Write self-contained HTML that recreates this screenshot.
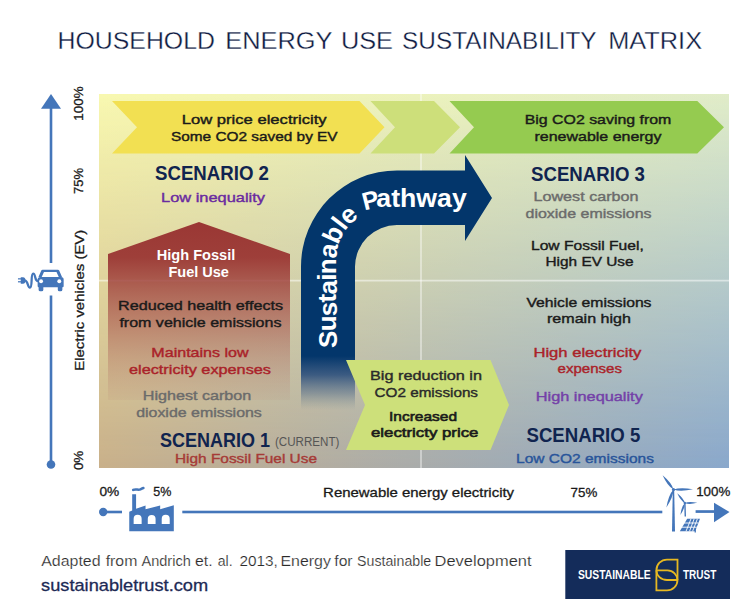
<!DOCTYPE html>
<html><head><meta charset="utf-8">
<style>
html,body{margin:0;padding:0;background:#fff;width:754px;height:615px;overflow:hidden}
svg{display:block;font-family:"Liberation Sans",sans-serif}
</style></head>
<body>
<svg width="754" height="615" viewBox="0 0 754 615">
<defs>
  <linearGradient id="gTop" x1="0" y1="0" x2="1" y2="0">
    <stop offset="0" stop-color="#f8f8b0"/>
    <stop offset="1" stop-color="#e0ecc8"/>
  </linearGradient>
  <linearGradient id="gBot" x1="0" y1="0" x2="1" y2="0">
    <stop offset="0" stop-color="#c9b08a"/>
    <stop offset="1" stop-color="#8aa8cc"/>
  </linearGradient>
  <linearGradient id="gMask" x1="0" y1="0" x2="0" y2="1">
    <stop offset="0" stop-color="#fff"/>
    <stop offset="1" stop-color="#000"/>
  </linearGradient>
  <mask id="mTop" maskUnits="userSpaceOnUse" x="99" y="94" width="630" height="374">
    <rect x="99" y="94" width="630" height="374" fill="url(#gMask)"/>
  </mask>
  <linearGradient id="gHouse" x1="0" y1="0" x2="0" y2="1">
    <stop offset="0" stop-color="#9a3734"/>
    <stop offset="0.2" stop-color="#9c3a36" stop-opacity="0.97"/>
    <stop offset="0.6" stop-color="#a44844" stop-opacity="0.5"/>
    <stop offset="1" stop-color="#b07068" stop-opacity="0.08"/>
  </linearGradient>
  <linearGradient id="gArrow" gradientUnits="userSpaceOnUse" x1="0" y1="356" x2="0" y2="410">
    <stop offset="0" stop-color="#03366b"/>
    <stop offset="0.35" stop-color="#1a4278" stop-opacity="0.8"/>
    <stop offset="0.7" stop-color="#3a5a85" stop-opacity="0.4"/>
    <stop offset="1" stop-color="#6a7f95" stop-opacity="0"/>
  </linearGradient>
</defs>

<!-- title -->
<g font-size="23.5" fill="#0f1b42" stroke="#fff" stroke-width="0.3">
  <text x="57.6" y="48.9" textLength="157.3" lengthAdjust="spacingAndGlyphs">HOUSEHOLD</text>
  <text x="225.3" y="48.9" textLength="107.2" lengthAdjust="spacingAndGlyphs">ENERGY</text>
  <text x="340.9" y="48.9" textLength="52.1" lengthAdjust="spacingAndGlyphs">USE</text>
  <text x="402.1" y="48.9" textLength="194.5" lengthAdjust="spacingAndGlyphs">SUSTAINABILITY</text>
  <text x="608.2" y="48.9" textLength="93.9" lengthAdjust="spacingAndGlyphs">MATRIX</text>
</g>

<!-- matrix background -->
<rect x="99" y="94" width="630" height="374" fill="url(#gBot)"/>
<rect x="99" y="94" width="630" height="374" fill="url(#gTop)" mask="url(#mTop)"/>
<!-- grid -->
<line x1="421" y1="94" x2="421" y2="468" stroke="#ffffff" stroke-opacity="0.5" stroke-width="1.6"/>
<line x1="99" y1="280.6" x2="729" y2="280.6" stroke="#ffffff" stroke-opacity="0.5" stroke-width="1.6"/>

<!-- chevrons -->
<polygon points="112,101 359.5,101 384.5,127.3 359.5,153.6 112,153.6 137,127.3" fill="#f2e052"/>
<polygon points="370.5,101 434,101 460,127.3 434,153.6 370.5,153.6 395,127.3" fill="#cddf7a"/>
<polygon points="449.5,101 697.3,101 724,127.3 697.3,153.6 449.5,153.6 474,127.3" fill="#95cb50"/>

<!-- house -->
<polygon points="199,222 290,254 290,400 108,400 108,254" fill="url(#gHouse)"/>

<!-- pathway arrow -->
<path d="M301,410 L301,266.5 A96,96 0 0 1 397,170.5 L465,170.5 L465,155 L492,198 L465,241 L465,225 L397,225 A42,42 0 0 0 355,266.5 L355,410 Z" fill="url(#gArrow)"/>
<path id="pathText" d="M336.5,400 L336.5,259 A50,50 0 0 1 386.5,209 L500,209" fill="none"/>
<text font-size="26" font-weight="bold" fill="#fff"><textPath href="#pathText" startOffset="52" textLength="139" lengthAdjust="spacing">Sustainable</textPath></text>
<text x="0" y="0" transform="translate(364.5,210.5) rotate(-14)" font-size="25" font-weight="bold" fill="#fff" textLength="16.5" lengthAdjust="spacingAndGlyphs">P</text>
<text x="376.3" y="206.8" font-size="25" font-weight="bold" fill="#fff" textLength="90.5" lengthAdjust="spacingAndGlyphs">athway</text>

<!-- green chevron lower -->
<polygon points="346,360 490.5,360 509,405 490.5,450 346,450 365,405" fill="#cde07a"/>

<!-- texts -->
<g font-size="13" fill="#1a1a1a" stroke="#1a1a1a" stroke-width="0.4" text-anchor="middle">
  <text x="254.2" y="123.8" textLength="145" lengthAdjust="spacingAndGlyphs">Low price electricity</text>
  <text x="254.3" y="140.8" textLength="166.6" lengthAdjust="spacingAndGlyphs">Some CO2 saved by EV</text>
  <text x="598" y="123.8" textLength="146.6" lengthAdjust="spacingAndGlyphs">Big CO2 saving from</text>
  <text x="598" y="140.8" textLength="127" lengthAdjust="spacingAndGlyphs">renewable energy</text>
</g>
<g font-size="20" font-weight="bold" fill="#10244f" text-anchor="middle">
  <text x="212" y="179.5" textLength="114" lengthAdjust="spacingAndGlyphs">SCENARIO 2</text>
  <text x="588" y="181" textLength="113.8" lengthAdjust="spacingAndGlyphs">SCENARIO 3</text>
  <text x="583.4" y="442" textLength="113.8" lengthAdjust="spacingAndGlyphs">SCENARIO 5</text>
</g>
<text x="159.9" y="446.5" font-size="20" font-weight="bold" fill="#10244f" textLength="110" lengthAdjust="spacingAndGlyphs">SCENARIO 1</text>
<text x="275" y="446" font-size="12" fill="#555" textLength="64.4" lengthAdjust="spacingAndGlyphs">(CURRENT)</text>
<g font-size="13.5" text-anchor="middle">
  <text stroke="#6a2aa0" stroke-width="0.4" x="213" y="202.4" fill="#6a2aa0" textLength="104" lengthAdjust="spacingAndGlyphs">Low inequality</text>
  <text stroke="#6b6b6b" stroke-width="0.4" x="586" y="201.2" fill="#6b6b6b" textLength="105" lengthAdjust="spacingAndGlyphs">Lowest carbon</text>
  <text stroke="#6b6b6b" stroke-width="0.4" x="588.5" y="218.4" fill="#6b6b6b" textLength="126" lengthAdjust="spacingAndGlyphs">dioxide emissions</text>
  <text stroke="#1a1a1a" stroke-width="0.4" x="587.4" y="249.5" fill="#1a1a1a" textLength="112.8" lengthAdjust="spacingAndGlyphs">Low Fossil Fuel,</text>
  <text stroke="#1a1a1a" stroke-width="0.4" x="589.5" y="266.4" fill="#1a1a1a" textLength="88" lengthAdjust="spacingAndGlyphs">High EV Use</text>
  <text stroke="#1a1a1a" stroke-width="0.4" x="589" y="306.9" fill="#1a1a1a" textLength="125" lengthAdjust="spacingAndGlyphs">Vehicle emissions</text>
  <text stroke="#1a1a1a" stroke-width="0.4" x="589" y="323" fill="#1a1a1a" textLength="84" lengthAdjust="spacingAndGlyphs">remain high</text>
  <text stroke="#aa2229" stroke-width="0.4" x="587.4" y="356.6" fill="#aa2229" textLength="108" lengthAdjust="spacingAndGlyphs">High electricity</text>
  <text stroke="#aa2229" stroke-width="0.4" x="589.8" y="373" fill="#aa2229" textLength="64.4" lengthAdjust="spacingAndGlyphs">expenses</text>
  <text stroke="#7440a8" stroke-width="0.4" x="589.3" y="400.7" fill="#7440a8" textLength="107" lengthAdjust="spacingAndGlyphs">High inequality</text>
  <text stroke="#28549a" stroke-width="0.4" x="585" y="462.8" fill="#28549a" textLength="137.8" lengthAdjust="spacingAndGlyphs">Low CO2 emissions</text>
  <text x="196" y="259.8" font-size="14.5" fill="#fff" font-weight="bold" textLength="78.5" lengthAdjust="spacingAndGlyphs">High Fossil</text>
  <text x="198.7" y="276.6" font-size="14.5" fill="#fff" font-weight="bold" textLength="60.5" lengthAdjust="spacingAndGlyphs">Fuel Use</text>
  <text stroke="#1a1a1a" stroke-width="0.4" x="200.6" y="310.3" fill="#1a1a1a" textLength="165" lengthAdjust="spacingAndGlyphs">Reduced health effects</text>
  <text stroke="#1a1a1a" stroke-width="0.4" x="200.4" y="326.8" fill="#1a1a1a" textLength="162" lengthAdjust="spacingAndGlyphs">from vehicle emissions</text>
  <text stroke="#aa2229" stroke-width="0.4" x="200" y="356.7" fill="#aa2229" textLength="97.3" lengthAdjust="spacingAndGlyphs">Maintains low</text>
  <text stroke="#aa2229" stroke-width="0.4" x="200" y="373.6" fill="#aa2229" textLength="142" lengthAdjust="spacingAndGlyphs">electricity expenses</text>
  <text stroke="#6b6b6b" stroke-width="0.4" x="197" y="399.7" fill="#6b6b6b" textLength="108.5" lengthAdjust="spacingAndGlyphs">Highest carbon</text>
  <text stroke="#6b6b6b" stroke-width="0.4" x="199" y="416.6" fill="#6b6b6b" textLength="125.7" lengthAdjust="spacingAndGlyphs">dioxide emissions</text>
  <text stroke="#a63b37" stroke-width="0.4" x="246" y="463.3" fill="#a63b37" textLength="142" lengthAdjust="spacingAndGlyphs">High Fossil Fuel Use</text>
  <text stroke="#2a2a2a" stroke-width="0.4" x="426" y="379.8" fill="#2a2a2a" textLength="112" lengthAdjust="spacingAndGlyphs">Big reduction in</text>
  <text stroke="#2a2a2a" stroke-width="0.4" x="426.3" y="397" fill="#2a2a2a" textLength="103.4" lengthAdjust="spacingAndGlyphs">CO2 emissions</text>
  <text x="423" y="421.1" fill="#1a1a1a" stroke="#1a1a1a" stroke-width="0.6" textLength="68" lengthAdjust="spacingAndGlyphs">Increased</text>
  <text x="424.7" y="437" fill="#1a1a1a" stroke="#1a1a1a" stroke-width="0.6" textLength="107.5" lengthAdjust="spacingAndGlyphs">electricty price</text>
</g>

<!-- vertical axis -->
<g fill="#4476ba" stroke="none">
  <polygon points="51,94 41,108.7 61,108.7"/>
  <rect x="49.7" y="108" width="2.6" height="155"/>
  <rect x="49.7" y="295.5" width="2.6" height="169"/>
  <circle cx="51" cy="464.5" r="4.3"/>
</g>
<g font-size="13" fill="#1a1a1a" stroke="#1a1a1a" stroke-width="0.3">
  <text transform="translate(83,120.7) rotate(-90)" textLength="34.3" lengthAdjust="spacingAndGlyphs">100%</text>
  <text transform="translate(83,194) rotate(-90)" textLength="26" lengthAdjust="spacingAndGlyphs">75%</text>
  <text transform="translate(83.5,370.7) rotate(-90)" textLength="141" lengthAdjust="spacingAndGlyphs">Electric vehicles (EV)</text>
  <text transform="translate(83,470.1) rotate(-90)" textLength="19.4" lengthAdjust="spacingAndGlyphs">0%</text>
</g>

<!-- horizontal axis -->
<g fill="#4476ba">
  <circle cx="103.2" cy="512" r="4.2"/>
  <rect x="103" y="510.7" width="19" height="2.6"/>
  <rect x="182.3" y="510.7" width="480" height="2.6"/>
  <rect x="695.6" y="510.2" width="19" height="2.7"/>
  <polygon points="714,502.8 729.5,512 714,522.2"/>
</g>
<g font-size="13" fill="#1a1a1a" stroke="#1a1a1a" stroke-width="0.3">
  <text x="99.5" y="496" textLength="19.8" lengthAdjust="spacingAndGlyphs">0%</text>
  <text x="153.2" y="496" textLength="18.1" lengthAdjust="spacingAndGlyphs">5%</text>
  <text x="323.1" y="496.9" textLength="191" lengthAdjust="spacingAndGlyphs">Renewable energy electricity</text>
  <text x="570.6" y="496.9" textLength="26.7" lengthAdjust="spacingAndGlyphs">75%</text>
  <text x="696.2" y="496" textLength="34.1" lengthAdjust="spacingAndGlyphs">100%</text>
</g>

<!-- footer -->
<g font-size="14.5" fill="#2a2a2a" stroke="#fff" stroke-width="0.2">
  <text x="41.2" y="566.2" textLength="59.4" lengthAdjust="spacingAndGlyphs">Adapted</text>
  <text x="105.7" y="566.2" textLength="31.7" lengthAdjust="spacingAndGlyphs">from</text>
  <text x="141.5" y="566.2" textLength="49.3" lengthAdjust="spacingAndGlyphs">Andrich</text>
  <text x="195.0" y="566.2" textLength="17.6" lengthAdjust="spacingAndGlyphs">et.</text>
  <text x="217.7" y="566.2" textLength="14.9" lengthAdjust="spacingAndGlyphs">al.</text>
  <text x="239.4" y="566.2" textLength="38.4" lengthAdjust="spacingAndGlyphs">2013,</text>
  <text x="280.5" y="566.2" textLength="50.4" lengthAdjust="spacingAndGlyphs">Energy</text>
  <text x="334.3" y="566.2" textLength="18.3" lengthAdjust="spacingAndGlyphs">for</text>
  <text x="357.1" y="566.2" textLength="74.1" lengthAdjust="spacingAndGlyphs">Sustainable</text>
  <text x="434.6" y="566.2" textLength="96.9" lengthAdjust="spacingAndGlyphs">Development</text>
</g>
<text x="41.1" y="590.6" font-size="17" fill="#1d2a55" stroke="#1d2a55" stroke-width="0.3" textLength="167" lengthAdjust="spacingAndGlyphs">sustainabletrust.com</text>

<!-- logo -->
<rect x="565.3" y="550" width="164.7" height="49" fill="#142c5a"/>


<!-- car icon -->
<g transform="translate(10,255) scale(0.0813)" fill="#4476ba">
  <path d="M400,180 L590,180 Q600,180 605,192 L640,272 L350,272 L385,192 Q390,180 400,180 Z"/>
  <path d="M418,208 L572,208 L600,272 L390,272 Z" fill="#fff"/>
  <path d="M340,305 Q340,272 372,272 L628,272 Q660,272 660,305 L660,380 Q660,398 645,398 L355,398 Q340,398 340,380 Z"/>
  <rect x="352" y="370" width="58" height="76" rx="20"/>
  <rect x="588" y="370" width="56" height="76" rx="20"/>
  <circle cx="382" cy="322" r="24" fill="#fff"/>
  <circle cx="606" cy="322" r="24" fill="#fff"/>
  <rect x="98" y="286" width="40" height="15"/>
  <rect x="98" y="322" width="40" height="15"/>
  <path d="M132,275 L160,275 Q192,280 192,315 Q192,350 160,355 L132,355 Z"/>
  <path d="M185,315 C222,315 215,402 245,402 C280,402 252,228 285,228 C318,228 300,322 345,322" fill="none" stroke="#4476ba" stroke-width="28"/>
</g>

<!-- factory icon -->
<g transform="translate(120,480) scale(0.09749)" fill="#4476ba">
  <path d="M95,525 L95,325 L125,312 L125,145 L165,145 L165,295 L262,262 L262,300 L412,262 L412,300 L552,260 L552,525 Z"/>
  <path d="M140,452 L140,398 A41,41 0 0 1 222,398 L222,452 Z M285,452 L285,398 A40,40 0 0 1 365,398 L365,452 Z M428,452 L428,398 A41,41 0 0 1 510,398 L510,452 Z" fill="#fff"/>
  <path d="M135,102 C165,88 185,108 210,96 C222,90 232,84 240,82" fill="none" stroke="#4476ba" stroke-width="26" stroke-linecap="round"/>
</g>

<!-- turbines and solar -->
<g fill="#4476ba" stroke="none">
  <path d="M672.8,490 L674.2,490 L675,531.5 L672,531.5 Z"/>
  <path d="M673.5,489.6 Q671.8,483.0 662.6,475.3 Q667.6,486.2 673.5,489.6 Z M673.5,489.6 Q680.4,492.1 693.0,489.3 Q680.3,486.9 673.5,489.6 Z M673.5,489.6 Q668.6,494.9 666.4,507.5 Q673.4,496.8 673.5,489.6 Z"/>
  <circle cx="673.5" cy="489.6" r="1.6"/>
  <path d="M684.2,503 L685.6,503 L686,516.5 L684.6,516.5 Z"/>
  <path d="M684.8,503.0 Q683.7,498.4 677.2,493.3 Q680.6,500.8 684.8,503.0 Z M684.8,503.0 Q689.2,504.9 697.3,502.8 Q689.1,500.9 684.8,503.0 Z M684.8,503.0 Q681.4,506.5 680.4,514.9 Q685.1,507.9 684.8,503.0 Z"/>
  <circle cx="684.8" cy="503" r="1.2"/>
  <path d="M687.2,518.8 L700,518.8 L695.2,531.3 L679.8,531.3 Z"/>
  <rect x="694.6" y="527" width="1.3" height="5.5"/>
</g>
<g stroke="#fff" stroke-width="0.9" fill="none">
  <line x1="683.5" y1="523" x2="698.5" y2="523"/>
  <line x1="681.7" y1="527.2" x2="696.8" y2="527.2"/>
  <line x1="691" y1="518.8" x2="686" y2="531.3"/>
  <line x1="694.2" y1="518.8" x2="689.5" y2="531.3"/>
  <line x1="697.4" y1="518.8" x2="692.6" y2="531.3"/>
</g>

<!-- logo content -->
<text x="577.9" y="579.4" font-size="12" font-weight="bold" fill="#fff" textLength="72.8" lengthAdjust="spacingAndGlyphs">SUSTAINABLE</text>
<text x="683" y="579.4" font-size="12" font-weight="bold" fill="#fff" textLength="33.4" lengthAdjust="spacingAndGlyphs">TRUST</text>
<g fill="none" stroke="#e6b822" stroke-width="1.8">
  <path d="M677.5,580 L677.5,559.6 L667,559.6 A10.6,10.6 0 0 0 656.4,570.3 L656.4,590.3 L667,590.3 A10.5,10.3 0 0 0 677.5,580"/>
  <path d="M656.4,570.3 L667.5,570.3 C673,570.3 677.5,575 677.5,580"/>
  <path d="M656.4,570.3 C656.4,575.5 661,580 667,580 L677.5,580"/>
</g>

</svg>
</body></html>
